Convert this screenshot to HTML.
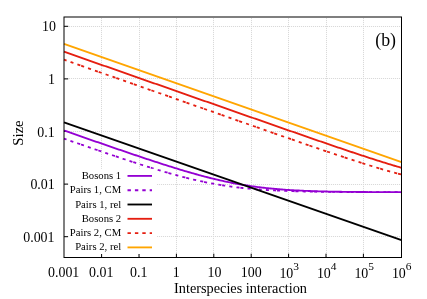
<!DOCTYPE html>
<html><head><meta charset="utf-8"><title>plot</title>
<style>
html,body{margin:0;padding:0;background:#fff;}
body{width:427px;height:299px;overflow:hidden;}
svg{display:block;font-family:"Liberation Serif",serif;will-change:transform;}
</style></head><body>
<svg width="427" height="299" viewBox="0 0 427 299">
<rect width="427" height="299" fill="#fff"/>

<g stroke="#fbfbfb" stroke-width="1" fill="none">
<line x1="101.5" y1="18" x2="101.5" y2="257"/>
<line x1="139.5" y1="18" x2="139.5" y2="257"/>
<line x1="176.5" y1="18" x2="176.5" y2="257"/>
<line x1="213.5" y1="18" x2="213.5" y2="257"/>
<line x1="251.5" y1="18" x2="251.5" y2="257"/>
<line x1="288.5" y1="18" x2="288.5" y2="257"/>
<line x1="326.5" y1="18" x2="326.5" y2="257"/>
<line x1="363.5" y1="18" x2="363.5" y2="257"/>
<line x1="65" y1="26.5" x2="401" y2="26.5"/>
<line x1="65" y1="78.5" x2="401" y2="78.5"/>
<line x1="65" y1="131.5" x2="401" y2="131.5"/>
<line x1="65" y1="184.5" x2="401" y2="184.5"/>
<line x1="65" y1="236.5" x2="401" y2="236.5"/>
</g>
<g stroke="#d9d9d9" stroke-width="1" stroke-dasharray="1,1" fill="none">
<line x1="101.5" y1="18" x2="101.5" y2="257"/>
<line x1="139.5" y1="18" x2="139.5" y2="257"/>
<line x1="176.5" y1="18" x2="176.5" y2="257"/>
<line x1="213.5" y1="18" x2="213.5" y2="257"/>
<line x1="251.5" y1="18" x2="251.5" y2="257"/>
<line x1="288.5" y1="18" x2="288.5" y2="257"/>
<line x1="326.5" y1="18" x2="326.5" y2="257"/>
<line x1="363.5" y1="18" x2="363.5" y2="257"/>
<line x1="65" y1="26.5" x2="401" y2="26.5"/>
<line x1="65" y1="78.5" x2="401" y2="78.5"/>
<line x1="65" y1="131.5" x2="401" y2="131.5"/>
<line x1="65" y1="184.5" x2="401" y2="184.5"/>
<line x1="65" y1="236.5" x2="401" y2="236.5"/>
</g>
<g stroke="#000" stroke-width="1" fill="none">
<line x1="101.60" y1="257.50" x2="101.60" y2="253.70"/>
<line x1="139.00" y1="257.50" x2="139.00" y2="253.70"/>
<line x1="176.40" y1="257.50" x2="176.40" y2="253.70"/>
<line x1="213.80" y1="257.50" x2="213.80" y2="253.70"/>
<line x1="251.20" y1="257.50" x2="251.20" y2="253.70"/>
<line x1="288.60" y1="257.50" x2="288.60" y2="253.70"/>
<line x1="326.00" y1="257.50" x2="326.00" y2="253.70"/>
<line x1="363.40" y1="257.50" x2="363.40" y2="253.70"/>
<line x1="64.00" y1="26.30" x2="68.20" y2="26.30"/>
<line x1="64.00" y1="78.90" x2="68.20" y2="78.90"/>
<line x1="64.00" y1="131.50" x2="68.20" y2="131.50"/>
<line x1="64.00" y1="184.10" x2="68.20" y2="184.10"/>
<line x1="64.00" y1="236.70" x2="68.20" y2="236.70"/>
</g>
<g fill="none" stroke-width="1.85" stroke-linecap="butt" stroke-linejoin="round">
<path d="M64.00,130.50 L65.41,130.99 L66.81,131.48 L68.22,131.97 L69.62,132.46 L71.03,132.95 L72.44,133.44 L73.84,133.93 L75.25,134.42 L76.66,134.91 L78.06,135.40 L79.47,135.89 L80.88,136.38 L82.28,136.87 L83.69,137.36 L85.09,137.85 L86.50,138.34 L87.91,138.83 L89.31,139.32 L90.72,139.80 L92.12,140.29 L93.53,140.78 L94.94,141.27 L96.34,141.76 L97.75,142.24 L99.16,142.73 L100.56,143.22 L101.97,143.70 L103.38,144.19 L104.78,144.67 L106.19,145.16 L107.59,145.64 L109.00,146.13 L110.41,146.61 L111.81,147.10 L113.22,147.58 L114.62,148.06 L116.03,148.55 L117.44,149.03 L118.84,149.51 L120.25,149.99 L121.66,150.47 L123.06,150.95 L124.47,151.43 L125.88,151.91 L127.28,152.39 L128.69,152.87 L130.09,153.34 L131.50,153.82 L132.91,154.30 L134.31,154.77 L135.72,155.25 L137.12,155.72 L138.53,156.19 L139.94,156.66 L141.34,157.13 L142.75,157.60 L144.16,158.07 L145.56,158.54 L146.97,159.01 L148.38,159.47 L149.78,159.94 L151.19,160.40 L152.59,160.86 L154.00,161.32 L155.41,161.78 L156.81,162.24 L158.22,162.70 L159.62,163.16 L161.03,163.61 L162.44,164.06 L163.84,164.51 L165.25,164.96 L166.66,165.41 L168.06,165.85 L169.47,166.30 L170.88,166.74 L172.28,167.18 L173.69,167.61 L175.09,168.05 L176.50,168.48 L177.91,168.91 L179.31,169.34 L180.72,169.77 L182.12,170.19 L183.53,170.61 L184.94,171.03 L186.34,171.44 L187.75,171.86 L189.16,172.26 L190.56,172.67 L191.97,173.07 L193.38,173.47 L194.78,173.87 L196.19,174.26 L197.59,174.65 L199.00,175.04 L200.41,175.42 L201.81,175.80 L203.22,176.17 L204.62,176.54 L206.03,176.91 L207.44,177.27 L208.84,177.63 L210.25,177.99 L211.66,178.34 L213.06,178.68 L214.47,179.02 L215.88,179.36 L217.28,179.69 L218.69,180.02 L220.09,180.34 L221.50,180.66 L222.91,180.97 L224.31,181.28 L225.72,181.58 L227.12,181.88 L228.53,182.17 L229.94,182.46 L231.34,182.74 L232.75,183.01 L234.16,183.29 L235.56,183.55 L236.97,183.81 L238.38,184.07 L239.78,184.32 L241.19,184.56 L242.59,184.80 L244.00,185.04 L245.41,185.27 L246.81,185.49 L248.22,185.71 L249.62,185.92 L251.03,186.13 L252.44,186.33 L253.84,186.53 L255.25,186.72 L256.66,186.91 L258.06,187.09 L259.47,187.27 L260.88,187.44 L262.28,187.61 L263.69,187.77 L265.09,187.93 L266.50,188.09 L267.91,188.23 L269.31,188.38 L270.72,188.52 L272.12,188.66 L273.53,188.79 L274.94,188.92 L276.34,189.04 L277.75,189.16 L279.16,189.28 L280.56,189.39 L281.97,189.50 L283.38,189.60 L284.78,189.70 L286.19,189.80 L287.59,189.90 L289.00,189.99 L290.41,190.07 L291.81,190.16 L293.22,190.24 L294.62,190.32 L296.03,190.40 L297.44,190.47 L298.84,190.54 L300.25,190.61 L301.66,190.68 L303.06,190.74 L304.47,190.80 L305.88,190.86 L307.28,190.92 L308.69,190.97 L310.09,191.02 L311.50,191.07 L312.91,191.12 L314.31,191.17 L315.72,191.21 L317.12,191.26 L318.53,191.30 L319.94,191.34 L321.34,191.38 L322.75,191.41 L324.16,191.45 L325.56,191.48 L326.97,191.51 L328.38,191.55 L329.78,191.58 L331.19,191.60 L332.59,191.63 L334.00,191.66 L335.41,191.68 L336.81,191.71 L338.22,191.73 L339.62,191.76 L341.03,191.78 L342.44,191.80 L343.84,191.82 L345.25,191.84 L346.66,191.86 L348.06,191.87 L349.47,191.89 L350.88,191.91 L352.28,191.92 L353.69,191.94 L355.09,191.95 L356.50,191.96 L357.91,191.98 L359.31,191.99 L360.72,192.00 L362.12,192.01 L363.53,192.03 L364.94,192.04 L366.34,192.05 L367.75,192.06 L369.16,192.07 L370.56,192.07 L371.97,192.08 L373.38,192.09 L374.78,192.10 L376.19,192.11 L377.59,192.11 L379.00,192.12 L380.41,192.13 L381.81,192.13 L383.22,192.14 L384.62,192.15 L386.03,192.15 L387.44,192.16 L388.84,192.16 L390.25,192.17 L391.66,192.17 L393.06,192.18 L394.47,192.18 L395.88,192.18 L397.28,192.19 L398.69,192.19 L400.09,192.20 L401.50,192.20" stroke="#9400d3"/>
<path d="M64.00,138.60 L65.41,139.09 L66.81,139.58 L68.22,140.06 L69.62,140.55 L71.03,141.04 L72.44,141.53 L73.84,142.02 L75.25,142.50 L76.66,142.99 L78.06,143.48 L79.47,143.96 L80.88,144.45 L82.28,144.93 L83.69,145.42 L85.09,145.90 L86.50,146.39 L87.91,146.87 L89.31,147.35 L90.72,147.84 L92.12,148.32 L93.53,148.80 L94.94,149.28 L96.34,149.77 L97.75,150.25 L99.16,150.73 L100.56,151.21 L101.97,151.69 L103.38,152.17 L104.78,152.64 L106.19,153.12 L107.59,153.60 L109.00,154.07 L110.41,154.55 L111.81,155.02 L113.22,155.50 L114.62,155.97 L116.03,156.44 L117.44,156.91 L118.84,157.38 L120.25,157.85 L121.66,158.32 L123.06,158.79 L124.47,159.25 L125.88,159.72 L127.28,160.18 L128.69,160.65 L130.09,161.11 L131.50,161.57 L132.91,162.03 L134.31,162.48 L135.72,162.94 L137.12,163.39 L138.53,163.85 L139.94,164.30 L141.34,164.75 L142.75,165.20 L144.16,165.64 L145.56,166.09 L146.97,166.53 L148.38,166.97 L149.78,167.41 L151.19,167.84 L152.59,168.28 L154.00,168.71 L155.41,169.14 L156.81,169.56 L158.22,169.99 L159.62,170.41 L161.03,170.83 L162.44,171.24 L163.84,171.66 L165.25,172.07 L166.66,172.47 L168.06,172.88 L169.47,173.28 L170.88,173.68 L172.28,174.07 L173.69,174.46 L175.09,174.85 L176.50,175.23 L177.91,175.61 L179.31,175.99 L180.72,176.36 L182.12,176.73 L183.53,177.09 L184.94,177.46 L186.34,177.81 L187.75,178.16 L189.16,178.51 L190.56,178.85 L191.97,179.19 L193.38,179.52 L194.78,179.85 L196.19,180.18 L197.59,180.50 L199.00,180.81 L200.41,181.12 L201.81,181.42 L203.22,181.72 L204.62,182.02 L206.03,182.31 L207.44,182.59 L208.84,182.87 L210.25,183.14 L211.66,183.41 L213.06,183.67 L214.47,183.93 L215.88,184.18 L217.28,184.43 L218.69,184.67 L220.09,184.91 L221.50,185.14 L222.91,185.36 L224.31,185.58 L225.72,185.80 L227.12,186.01 L228.53,186.21 L229.94,186.41 L231.34,186.61 L232.75,186.80 L234.16,186.98 L235.56,187.16 L236.97,187.34 L238.38,187.51 L239.78,187.67 L241.19,187.83 L242.59,187.99 L244.00,188.14 L245.41,188.28 L246.81,188.43 L248.22,188.56 L249.62,188.70 L251.03,188.83 L252.44,188.95 L253.84,189.07 L255.25,189.19 L256.66,189.30 L258.06,189.41 L259.47,189.52 L260.88,189.62 L262.28,189.72 L263.69,189.82 L265.09,189.91 L266.50,190.00 L267.91,190.09 L269.31,190.17 L270.72,190.25 L272.12,190.33 L273.53,190.40 L274.94,190.47 L276.34,190.54 L277.75,190.61 L279.16,190.67 L280.56,190.74 L281.97,190.80 L283.38,190.85 L284.78,190.91 L286.19,190.96 L287.59,191.01 L289.00,191.06 L290.41,191.11 L291.81,191.16 L293.22,191.20 L294.62,191.24 L296.03,191.28 L297.44,191.32 L298.84,191.36 L300.25,191.39 L301.66,191.43 L303.06,191.46 L304.47,191.49 L305.88,191.52 L307.28,191.55 L308.69,191.58 L310.09,191.61 L311.50,191.63 L312.91,191.66 L314.31,191.68 L315.72,191.71 L317.12,191.73 L318.53,191.75 L319.94,191.77 L321.34,191.79 L322.75,191.81 L324.16,191.83 L325.56,191.84 L326.97,191.86 L328.38,191.87 L329.78,191.89 L331.19,191.90 L332.59,191.92 L334.00,191.93 L335.41,191.94 L336.81,191.96 L338.22,191.97 L339.62,191.98 L341.03,191.99 L342.44,192.00 L343.84,192.01 L345.25,192.02 L346.66,192.03 L348.06,192.04 L349.47,192.05 L350.88,192.06 L352.28,192.06 L353.69,192.07 L355.09,192.08 L356.50,192.08 L357.91,192.09 L359.31,192.10 L360.72,192.10 L362.12,192.11 L363.53,192.11 L364.94,192.12 L366.34,192.12 L367.75,192.13 L369.16,192.13 L370.56,192.14 L371.97,192.14 L373.38,192.15 L374.78,192.15 L376.19,192.15 L377.59,192.16 L379.00,192.16 L380.41,192.16 L381.81,192.17 L383.22,192.17 L384.62,192.17 L386.03,192.18 L387.44,192.18 L388.84,192.18 L390.25,192.18 L391.66,192.19 L393.06,192.19 L394.47,192.19 L395.88,192.19 L397.28,192.19 L398.69,192.20 L400.09,192.20 L401.50,192.20" stroke="#9400d3" stroke-width="1.8" stroke-dasharray="3.07,4.14,3.07,4.14,3.07,0.9" stroke-dashoffset="0.4"/>
<path d="M64.00,122.45 L401.50,240.05" stroke="#000000"/>
<path d="M64.00,51.70 L65.41,52.19 L66.81,52.69 L68.22,53.18 L69.62,53.67 L71.03,54.17 L72.44,54.66 L73.84,55.15 L75.25,55.64 L76.66,56.14 L78.06,56.63 L79.47,57.12 L80.88,57.62 L82.28,58.11 L83.69,58.60 L85.09,59.10 L86.50,59.59 L87.91,60.08 L89.31,60.58 L90.72,61.07 L92.12,61.56 L93.53,62.06 L94.94,62.55 L96.34,63.04 L97.75,63.53 L99.16,64.03 L100.56,64.52 L101.97,65.01 L103.38,65.51 L104.78,66.00 L106.19,66.49 L107.59,66.99 L109.00,67.48 L110.41,67.97 L111.81,68.47 L113.22,68.96 L114.62,69.45 L116.03,69.95 L117.44,70.44 L118.84,70.93 L120.25,71.42 L121.66,71.92 L123.06,72.41 L124.47,72.90 L125.88,73.40 L127.28,73.89 L128.69,74.38 L130.09,74.88 L131.50,75.37 L132.91,75.86 L134.31,76.36 L135.72,76.85 L137.12,77.34 L138.53,77.83 L139.94,78.33 L141.34,78.82 L142.75,79.31 L144.16,79.81 L145.56,80.30 L146.97,80.79 L148.38,81.29 L149.78,81.78 L151.19,82.27 L152.59,82.77 L154.00,83.26 L155.41,83.75 L156.81,84.24 L158.22,84.74 L159.62,85.23 L161.03,85.72 L162.44,86.22 L163.84,86.71 L165.25,87.20 L166.66,87.70 L168.06,88.19 L169.47,88.68 L170.88,89.18 L172.28,89.67 L173.69,90.16 L175.09,90.65 L176.50,91.15 L177.91,91.64 L179.31,92.13 L180.72,92.63 L182.12,93.12 L183.53,93.61 L184.94,94.11 L186.34,94.60 L187.75,95.09 L189.16,95.58 L190.56,96.08 L191.97,96.57 L193.38,97.06 L194.78,97.56 L196.19,98.05 L197.59,98.54 L199.00,99.04 L200.41,99.53 L201.81,100.02 L203.22,100.51 L204.62,101.01 L206.03,101.50 L207.44,101.99 L208.84,102.49 L210.25,102.98 L211.66,103.47 L213.06,103.96 L214.47,104.46 L215.88,104.95 L217.28,105.44 L218.69,105.93 L220.09,106.43 L221.50,106.92 L222.91,107.41 L224.31,107.91 L225.72,108.40 L227.12,108.89 L228.53,109.38 L229.94,109.88 L231.34,110.37 L232.75,110.86 L234.16,111.35 L235.56,111.85 L236.97,112.34 L238.38,112.83 L239.78,113.32 L241.19,113.82 L242.59,114.31 L244.00,114.80 L245.41,115.29 L246.81,115.78 L248.22,116.28 L249.62,116.77 L251.03,117.26 L252.44,117.75 L253.84,118.25 L255.25,118.74 L256.66,119.23 L258.06,119.72 L259.47,120.21 L260.88,120.70 L262.28,121.20 L263.69,121.69 L265.09,122.18 L266.50,122.67 L267.91,123.16 L269.31,123.65 L270.72,124.14 L272.12,124.64 L273.53,125.13 L274.94,125.62 L276.34,126.11 L277.75,126.60 L279.16,127.09 L280.56,127.58 L281.97,128.07 L283.38,128.56 L284.78,129.05 L286.19,129.54 L287.59,130.03 L289.00,130.52 L290.41,131.01 L291.81,131.50 L293.22,131.99 L294.62,132.48 L296.03,132.97 L297.44,133.46 L298.84,133.95 L300.25,134.43 L301.66,134.92 L303.06,135.41 L304.47,135.90 L305.88,136.39 L307.28,136.87 L308.69,137.36 L310.09,137.85 L311.50,138.33 L312.91,138.82 L314.31,139.31 L315.72,139.79 L317.12,140.28 L318.53,140.76 L319.94,141.25 L321.34,141.73 L322.75,142.22 L324.16,142.70 L325.56,143.18 L326.97,143.66 L328.38,144.15 L329.78,144.63 L331.19,145.11 L332.59,145.59 L334.00,146.07 L335.41,146.55 L336.81,147.03 L338.22,147.51 L339.62,147.99 L341.03,148.46 L342.44,148.94 L343.84,149.42 L345.25,149.89 L346.66,150.37 L348.06,150.84 L349.47,151.31 L350.88,151.78 L352.28,152.25 L353.69,152.72 L355.09,153.19 L356.50,153.66 L357.91,154.13 L359.31,154.59 L360.72,155.06 L362.12,155.52 L363.53,155.99 L364.94,156.45 L366.34,156.91 L367.75,157.37 L369.16,157.82 L370.56,158.28 L371.97,158.73 L373.38,159.18 L374.78,159.64 L376.19,160.08 L377.59,160.53 L379.00,160.98 L380.41,161.42 L381.81,161.86 L383.22,162.30 L384.62,162.74 L386.03,163.18 L387.44,163.61 L388.84,164.04 L390.25,164.47 L391.66,164.89 L393.06,165.32 L394.47,165.74 L395.88,166.16 L397.28,166.57 L398.69,166.98 L400.09,167.39 L401.50,167.80" stroke="#e51e10"/>
<path d="M64.00,59.70 L65.41,60.19 L66.81,60.69 L68.22,61.18 L69.62,61.67 L71.03,62.17 L72.44,62.66 L73.84,63.15 L75.25,63.64 L76.66,64.14 L78.06,64.63 L79.47,65.12 L80.88,65.62 L82.28,66.11 L83.69,66.60 L85.09,67.10 L86.50,67.59 L87.91,68.08 L89.31,68.58 L90.72,69.07 L92.12,69.56 L93.53,70.06 L94.94,70.55 L96.34,71.04 L97.75,71.53 L99.16,72.03 L100.56,72.52 L101.97,73.01 L103.38,73.51 L104.78,74.00 L106.19,74.49 L107.59,74.99 L109.00,75.48 L110.41,75.97 L111.81,76.47 L113.22,76.96 L114.62,77.45 L116.03,77.95 L117.44,78.44 L118.84,78.93 L120.25,79.42 L121.66,79.92 L123.06,80.41 L124.47,80.90 L125.88,81.40 L127.28,81.89 L128.69,82.38 L130.09,82.88 L131.50,83.37 L132.91,83.86 L134.31,84.36 L135.72,84.85 L137.12,85.34 L138.53,85.83 L139.94,86.33 L141.34,86.82 L142.75,87.31 L144.16,87.81 L145.56,88.30 L146.97,88.79 L148.38,89.29 L149.78,89.78 L151.19,90.27 L152.59,90.77 L154.00,91.26 L155.41,91.75 L156.81,92.24 L158.22,92.74 L159.62,93.23 L161.03,93.72 L162.44,94.22 L163.84,94.71 L165.25,95.20 L166.66,95.70 L168.06,96.19 L169.47,96.68 L170.88,97.17 L172.28,97.67 L173.69,98.16 L175.09,98.65 L176.50,99.15 L177.91,99.64 L179.31,100.13 L180.72,100.62 L182.12,101.12 L183.53,101.61 L184.94,102.10 L186.34,102.60 L187.75,103.09 L189.16,103.58 L190.56,104.08 L191.97,104.57 L193.38,105.06 L194.78,105.55 L196.19,106.05 L197.59,106.54 L199.00,107.03 L200.41,107.52 L201.81,108.02 L203.22,108.51 L204.62,109.00 L206.03,109.50 L207.44,109.99 L208.84,110.48 L210.25,110.97 L211.66,111.47 L213.06,111.96 L214.47,112.45 L215.88,112.94 L217.28,113.44 L218.69,113.93 L220.09,114.42 L221.50,114.91 L222.91,115.41 L224.31,115.90 L225.72,116.39 L227.12,116.88 L228.53,117.38 L229.94,117.87 L231.34,118.36 L232.75,118.85 L234.16,119.34 L235.56,119.84 L236.97,120.33 L238.38,120.82 L239.78,121.31 L241.19,121.80 L242.59,122.30 L244.00,122.79 L245.41,123.28 L246.81,123.77 L248.22,124.26 L249.62,124.75 L251.03,125.25 L252.44,125.74 L253.84,126.23 L255.25,126.72 L256.66,127.21 L258.06,127.70 L259.47,128.19 L260.88,128.68 L262.28,129.17 L263.69,129.67 L265.09,130.16 L266.50,130.65 L267.91,131.14 L269.31,131.63 L270.72,132.12 L272.12,132.61 L273.53,133.10 L274.94,133.59 L276.34,134.08 L277.75,134.57 L279.16,135.05 L280.56,135.54 L281.97,136.03 L283.38,136.52 L284.78,137.01 L286.19,137.50 L287.59,137.99 L289.00,138.47 L290.41,138.96 L291.81,139.45 L293.22,139.94 L294.62,140.42 L296.03,140.91 L297.44,141.40 L298.84,141.88 L300.25,142.37 L301.66,142.85 L303.06,143.34 L304.47,143.82 L305.88,144.31 L307.28,144.79 L308.69,145.27 L310.09,145.76 L311.50,146.24 L312.91,146.72 L314.31,147.20 L315.72,147.68 L317.12,148.16 L318.53,148.64 L319.94,149.12 L321.34,149.60 L322.75,150.08 L324.16,150.56 L325.56,151.04 L326.97,151.51 L328.38,151.99 L329.78,152.46 L331.19,152.94 L332.59,153.41 L334.00,153.88 L335.41,154.36 L336.81,154.83 L338.22,155.30 L339.62,155.77 L341.03,156.23 L342.44,156.70 L343.84,157.17 L345.25,157.63 L346.66,158.09 L348.06,158.56 L349.47,159.02 L350.88,159.48 L352.28,159.93 L353.69,160.39 L355.09,160.85 L356.50,161.30 L357.91,161.75 L359.31,162.20 L360.72,162.65 L362.12,163.10 L363.53,163.54 L364.94,163.99 L366.34,164.43 L367.75,164.87 L369.16,165.31 L370.56,165.74 L371.97,166.17 L373.38,166.60 L374.78,167.03 L376.19,167.46 L377.59,167.88 L379.00,168.30 L380.41,168.72 L381.81,169.13 L383.22,169.55 L384.62,169.95 L386.03,170.36 L387.44,170.76 L388.84,171.16 L390.25,171.56 L391.66,171.95 L393.06,172.34 L394.47,172.73 L395.88,173.11 L397.28,173.49 L398.69,173.86 L400.09,174.23 L401.50,174.60" stroke="#e51e10" stroke-width="1.8" stroke-dasharray="3.1,4.2,3.1,4.2,3.1,0.9" stroke-dashoffset="0.4"/>
<path d="M64.00,43.80 L401.50,162.05" stroke="#ffa500"/>
</g>
<rect x="68.4" y="168.8" width="88.4" height="85.2" fill="#fff"/>
<g font-size="10.7" text-anchor="end">
<text x="121.2" y="178.95">Bosons 1</text>
<line x1="127.5" y1="175.90" x2="152" y2="175.90" stroke="#9400d3" stroke-width="1.85"/>
<text x="121.2" y="193.25">Pairs 1, CM</text>
<line x1="127.5" y1="190.20" x2="152" y2="190.20" stroke="#9400d3" stroke-width="1.85" stroke-dasharray="3.4,4"/>
<text x="121.2" y="207.55">Pairs 1, rel</text>
<line x1="127.5" y1="204.50" x2="152" y2="204.50" stroke="#000000" stroke-width="1.85"/>
<text x="121.2" y="221.85">Bosons 2</text>
<line x1="127.5" y1="218.80" x2="152" y2="218.80" stroke="#e51e10" stroke-width="1.85"/>
<text x="121.2" y="236.15">Pairs 2, CM</text>
<line x1="127.5" y1="233.10" x2="152" y2="233.10" stroke="#e51e10" stroke-width="1.85" stroke-dasharray="3.4,4"/>
<text x="121.2" y="250.45">Pairs 2, rel</text>
<line x1="127.5" y1="247.40" x2="152" y2="247.40" stroke="#ffa500" stroke-width="1.85"/>
</g>
<rect x="64.00" y="17.00" width="337.50" height="240.50" fill="none" stroke="#000" stroke-width="1"/>
<g font-size="13.90" fill="#000" text-anchor="end">
<text x="56.00" y="31.30">10</text>
<text x="55.00" y="84.40">1</text>
<text x="54.70" y="136.80">0.1</text>
<text x="54.70" y="189.00">0.01</text>
<text x="54.50" y="242.20">0.001</text>
</g>
<g font-size="13.90" fill="#000" text-anchor="middle">
<text x="63.70" y="277">0.001</text>
<text x="101.20" y="277">0.01</text>
<text x="138.70" y="277">0.1</text>
<text x="176.20" y="277">1</text>
<text x="214.40" y="277">10</text>
<text x="251.20" y="277">100</text>
<text x="289.20" y="277.8">10<tspan font-size="11.4" dy="-7.4">3</tspan></text>
<text x="326.70" y="277.8">10<tspan font-size="11.4" dy="-7.4">4</tspan></text>
<text x="364.20" y="277.8">10<tspan font-size="11.4" dy="-7.4">5</tspan></text>
<text x="401.70" y="277.8">10<tspan font-size="11.4" dy="-7.4">6</tspan></text>
</g>
<text x="240.5" y="293.2" font-size="14.3" text-anchor="middle">Interspecies interaction</text>
<text transform="translate(23.2,133.1) rotate(-90)" font-size="14.75" text-anchor="middle">Size</text>
<text x="385.6" y="45.8" font-size="17.8" text-anchor="middle">(b)</text>
</svg></body></html>
